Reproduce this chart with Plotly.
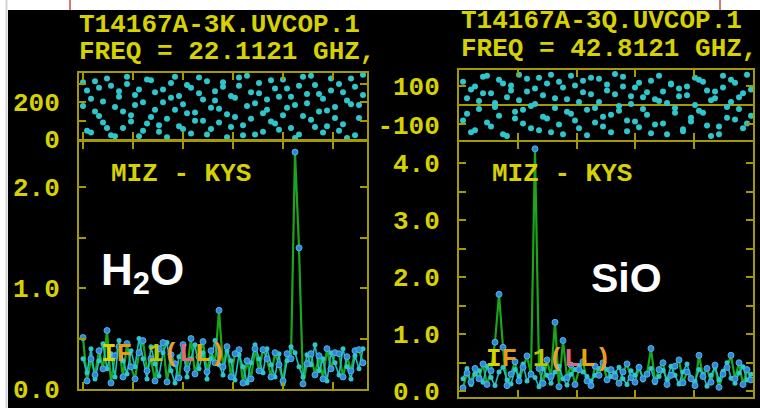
import plotly.graph_objects as go

W, H = 760, 408

# ---------------- 22 GHz (H2O) spectrum, MIZ - KYS ----------------
k_amp_main = [
    0.51, 0.08, 0.30, 0.14, 0.38, 0.20, 0.58, 0.06, 0.33, 0.42,
    0.12, 0.45, 0.22, 0.10, 0.36, 0.48, 0.18, 0.30, 0.08, 0.40,
    0.46, 0.07, 0.34, 0.25, 0.11, 0.44, 0.20, 0.50, 0.15, 0.32,
    0.47, 0.17, 0.38, 0.26, 0.78, 0.22, 0.42, 0.12, 0.35, 0.39,
    0.06, 0.28, 0.10, 0.40, 0.18, 0.39, 0.30, 0.12, 0.36, 0.24,
    0.08, 0.35, 0.30, 2.35, 1.40, 0.05, 0.25, 0.35, 0.14, 0.33,
    0.10, 0.40, 0.20, 0.36, 0.35, 0.12, 0.32, 0.18, 0.38, 0.39,
    0.26,
]
k_amp_scan2 = [
    0.30, 0.16, 0.40, 0.10, 0.28, 0.45, 0.20, 0.35, 0.12, 0.48,
    0.28, 0.15, 0.38, 0.22, 0.50, 0.30, 0.10, 0.42, 0.25, 0.13,
    0.36, 0.46, 0.18, 0.06, 0.32, 0.40, 0.12, 0.30, 0.44, 0.20,
    0.36, 0.10, 0.30, 0.48, 0.24, 0.14, 0.38, 0.28, 0.09, 0.34,
    0.22, 0.06, 0.26, 0.44, 0.30, 0.16, 0.40, 0.24, 0.12, 0.35,
    0.05, 0.28, 0.42, 0.36, 0.22, 0.12, 0.34, 0.24, 0.44, 0.18,
    0.30, 0.08, 0.36, 0.26, 0.14, 0.40, 0.22, 0.10, 0.33, 0.20,
    0.40,
]
k_phase_main = [
    310, 45, 220, 150, 280, 90, 330, 20, 175, 260,
    60, 300, 130, 240, 15, 200, 85, 320, 160, 40,
    270, 110, 225, 340, 70, 190, 295, 30, 145, 250,
    100, 315, 55, 210, 165, 285, 10, 235, 120, 335,
    75, 180, 255, 25, 305, 140, 215, 95, 275, 50,
    325, 170, 230, 5, 290, 125, 195, 345, 65, 245,
    35, 155, 265, 115, 300, 80, 210, 330, 20, 185,
    240,
]
k_phase_scan2 = [
    180, 265, 35, 315, 125, 205, 60, 290, 15, 230,
    150, 340, 95, 185, 270, 45, 325, 120, 255, 75,
    200, 10, 305, 160, 235, 55, 140, 280, 100, 335,
    215, 25, 170, 260, 90, 310, 135, 65, 225, 290,
    20, 345, 110, 195, 250, 40, 160, 320, 85, 230,
    130, 275, 60, 185, 25, 340, 245, 105, 295, 150,
    220, 70, 330, 175, 45, 255, 5, 190, 285, 115,
    350,
]

# ---------------- 43 GHz (SiO) spectrum, MIZ - KYS ----------------
q_amp_main = [
    0.06, 0.32, 0.16, 0.40, 0.22, 0.48, 0.12, 0.36, 0.86, 1.70,
    0.77, 0.10, 0.30, 0.52, 0.18, 0.42, 0.62, 0.30, 4.25, 0.40,
    0.14, 0.55, 0.26, 1.21, 0.08, 0.89, 0.24, 0.46, 0.12, 0.38,
    0.52, 0.18, 0.10, 0.44, 0.28, 0.50, 0.20, 0.38, 0.26, 0.14,
    0.34, 0.48, 0.24, 0.16, 0.42, 0.22, 0.30, 0.75, 0.18, 0.38,
    0.50, 0.12, 0.28, 0.44, 0.55, 0.15, 0.34, 0.22, 0.10, 0.63,
    0.26, 0.40, 0.16, 0.46, 0.07, 0.30, 0.42, 0.63, 0.22, 0.50,
    0.12, 0.38, 0.20,
]
q_amp_scan2 = [
    0.22, 0.40, 0.12, 0.30, 0.36, 0.16, 0.44, 0.24, 0.10, 0.34,
    0.42, 0.20, 0.13, 0.38, 0.26, 0.48, 0.18, 0.32, 0.24, 0.08,
    0.40, 0.28, 0.14, 0.34, 0.44, 0.22, 0.11, 0.30, 0.38, 0.45,
    0.34, 0.26, 0.18, 0.28, 0.40, 0.50, 0.38, 0.26, 0.32, 0.42,
    0.22, 0.12, 0.36, 0.28, 0.44, 0.20, 0.30, 0.40, 0.15, 0.26,
    0.37, 0.20, 0.44, 0.28, 0.13, 0.34, 0.48, 0.24, 0.17, 0.38,
    0.30, 0.09, 0.28, 0.42, 0.20, 0.35, 0.50, 0.23, 0.14, 0.32,
    0.43, 0.20, 0.30,
]
q_phase_main = [
    120, -45, 80, -130, 20, 145, -90, 60, -10, 130,
    -150, 40, 100, -70, 155, -25, 70, -120, 5, 140,
    -60, 110, -140, 35, -100, 90, -35, 150, -80, 15,
    125, -155, 55, -15, 135, -110, 75, -50, 160, -5,
    95, -135, 45, -85, 115, -20, 65, -145, 30, 150,
    -95, 10, 105, -40, 85, -125, 50, -65, 140, -30,
    120, -105, 25, 70, -150, 90, -10, 130, -75, 40,
    -120, 155, -55,
]
q_phase_scan2 = [
    -80, 35, -140, 95, -20, 60, 150, -110, 10, -55,
    110, -160, 75, -35, 25, -95, 135, -5, 85, -130,
    50, -70, 155, -15, 120, -150, 30, -45, 100, -120,
    65, -25, 140, -90, 15, -60, 105, -140, 55, -30,
    145, -80, 5, 90, -115, 40, -50, 125, -100, 20,
    70, -150, 110, -15, 45, -135, 95, -85, 0, 130,
    -40, 75, -160, 35, -110, 150, -65, 15, 115, -20,
    60, -95, 80,
]

k_chan = list(range(1, len(k_amp_main) + 1))
q_chan = list(range(1, len(q_amp_main) + 1))

# tick labels
k_amp_ticks = [0.0, 0.5, 1.0, 1.5, 2.0]
k_amp_text = ["0.0", "", "1.0", "", "2.0"]
k_phase_ticks = [0, 100, 200, 300]
k_phase_text = ["0", "", "200", ""]
q_amp_ticks = [0.0, 0.5, 1.0, 1.5, 2.0, 2.5, 3.0, 3.5, 4.0]
q_amp_text = ["0.0", "", "1.0", "", "2.0", "", "3.0", "", "4.0"]
q_phase_ticks = [-100, 0, 100]
q_phase_text = ["-100", "", "100"]

# ---------------- styling ----------------
YELLOW = "#d6d200"
OLIVE = "#a39a00"
GREEN = "#1aa61a"
CYAN = "#22bcc0"
DOTCYAN = "#2ec6cc"
BLUE = "#2f86d6"
MONO = dict(family="Liberation Mono", size=26, color=YELLOW, weight="bold")


def px_x(x):
    return x / W


def px_y(y):
    return 1 - y / H


fig = go.Figure()


def spectrum(chan, main, scan2, xa, ya):
    fig.add_trace(go.Scatter(x=chan, y=main, mode="lines",
                             line=dict(color=GREEN, width=2.2),
                             xaxis=xa, yaxis=ya, hoverinfo="skip"))
    fig.add_trace(go.Scatter(x=chan, y=scan2, mode="lines+markers",
                             line=dict(color=CYAN, width=1.6),
                             marker=dict(color=DOTCYAN, size=5),
                             xaxis=xa, yaxis=ya, hoverinfo="skip"))
    fig.add_trace(go.Scatter(x=chan, y=main, mode="markers",
                             marker=dict(color=BLUE, size=6,
                                         line=dict(color="#4fb4e6", width=1)),
                             xaxis=xa, yaxis=ya, hoverinfo="skip"))


def phases(chan, p1, p2, xa, ya):
    for p in (p1, p2):
        fig.add_trace(go.Scatter(x=chan, y=p, mode="markers",
                                 marker=dict(color=DOTCYAN, size=6),
                                 xaxis=xa, yaxis=ya, hoverinfo="skip"))


spectrum(k_chan, k_amp_main, k_amp_scan2, "x", "y")
phases(k_chan, k_phase_main, k_phase_scan2, "x2", "y2")
spectrum(q_chan, q_amp_main, q_amp_scan2, "x3", "y3")
phases(q_chan, q_phase_main, q_phase_scan2, "x4", "y4")


def frame(**kw):
    d = dict(showline=True, linecolor=OLIVE, linewidth=2, mirror="allticks",
             ticks="inside", ticklen=7, tickwidth=2, tickcolor=OLIVE,
             showgrid=False, zeroline=False, fixedrange=True,
             automargin=False, ticklabeloverflow="allow", tickfont=MONO)
    d.update(kw)
    return d


k_dom = [px_x(79), px_x(367)]
q_dom = [px_x(459), px_x(753)]

fig.update_layout(
    width=W, height=H, autosize=False,
    margin=dict(l=0, r=0, t=0, b=0, pad=0),
    paper_bgcolor="white", plot_bgcolor="black",
    showlegend=False,
    xaxis=frame(domain=k_dom, anchor="y", range=[0, 72], tick0=13.5,
                dtick=12.5, showticklabels=False),
    yaxis=frame(domain=[px_y(389), px_y(142)], anchor="x", range=[0, 2.45],
                tickmode="array", tickvals=k_amp_ticks, ticktext=k_amp_text,
                ticklabelstandoff=12),
    xaxis2=frame(domain=k_dom, anchor="y2", range=[0, 72], tick0=13.5,
                 dtick=12.5, showticklabels=False),
    yaxis2=frame(domain=[px_y(139), px_y(73)], anchor="x2", range=[0, 360],
                 tickmode="array", tickvals=k_phase_ticks,
                 ticktext=k_phase_text, ticklabelstandoff=12),
    xaxis3=frame(domain=q_dom, anchor="y3", range=[0, 73.5], tick0=14.7,
                 dtick=14.7, showticklabels=False),
    yaxis3=frame(domain=[px_y(397), px_y(142)], anchor="x3",
                 range=[-0.1, 4.37], tickmode="array", tickvals=q_amp_ticks,
                 ticktext=q_amp_text, ticklabelstandoff=12),
    xaxis4=frame(domain=q_dom, anchor="y4", range=[0, 73.5], tick0=14.7,
                 dtick=14.7, showticklabels=False),
    yaxis4=frame(domain=[px_y(140), px_y(70)], anchor="x4",
                 range=[-180, 180], tickmode="array", tickvals=q_phase_ticks,
                 ticktext=q_phase_text, ticklabelstandoff=12,
                 zeroline=True, zerolinecolor=OLIVE, zerolinewidth=2),
)

# black display area with a light page margin on the top and left
fig.add_shape(type="rect", xref="paper", yref="paper", layer="below",
              x0=px_x(8), x1=1, y0=0, y1=px_y(10),
              fillcolor="black", line=dict(width=0))
fig.add_shape(type="line", xref="paper", yref="paper", layer="below",
              x0=px_x(6.5), x1=px_x(6.5), y0=0, y1=1,
              line=dict(color="#d4d4d4", width=2))
for xr in (70, 720):
    fig.add_shape(type="line", xref="paper", yref="paper", layer="below",
                  x0=px_x(xr), x1=px_x(xr), y0=px_y(10), y1=1,
                  line=dict(color="#c44a4a", width=1.5))


def label(text, x, y, font=MONO, xanchor="left"):
    fig.add_annotation(text=text, x=px_x(x), y=px_y(y), xref="paper",
                       yref="paper", xanchor=xanchor, yanchor="middle",
                       showarrow=False, font=font, borderpad=0)


label("T14167A-3K.UVCOP.1", 78, 24.5)
label("FREQ = 22.1121 GHZ,", 78, 51.5)
label("T14167A-3Q.UVCOP.1", 460, 20.5)
label("FREQ = 42.8121 GHZ,", 460, 48.5)
label("MIZ - KYS", 110, 174)
label("MIZ - KYS", 491, 174)

if_label = ("<span style='color:#d8d400'>I</span>"
            "<span style='color:#e49a1c'>F</span> "
            "<span style='color:#b8c800'>1</span>"
            "<span style='color:#e8a030'>(</span>"
            "<span style='color:#e06878'>L</span>"
            "<span style='color:#e8a800'>L</span>"
            "<span style='color:#f09828'>)</span>")
label(if_label, 100, 354)
label(if_label, 485, 359)

WHITE = dict(family="Liberation Sans", size=44, color="white", weight="bold")
label("H<sub>2</sub>O", 100, 273, font=WHITE)
label("SiO", 590, 278, font=dict(family="Liberation Sans", size=41,
                                 color="white", weight="bold"))

fig.write_html("out.html", config={"responsive": False})
